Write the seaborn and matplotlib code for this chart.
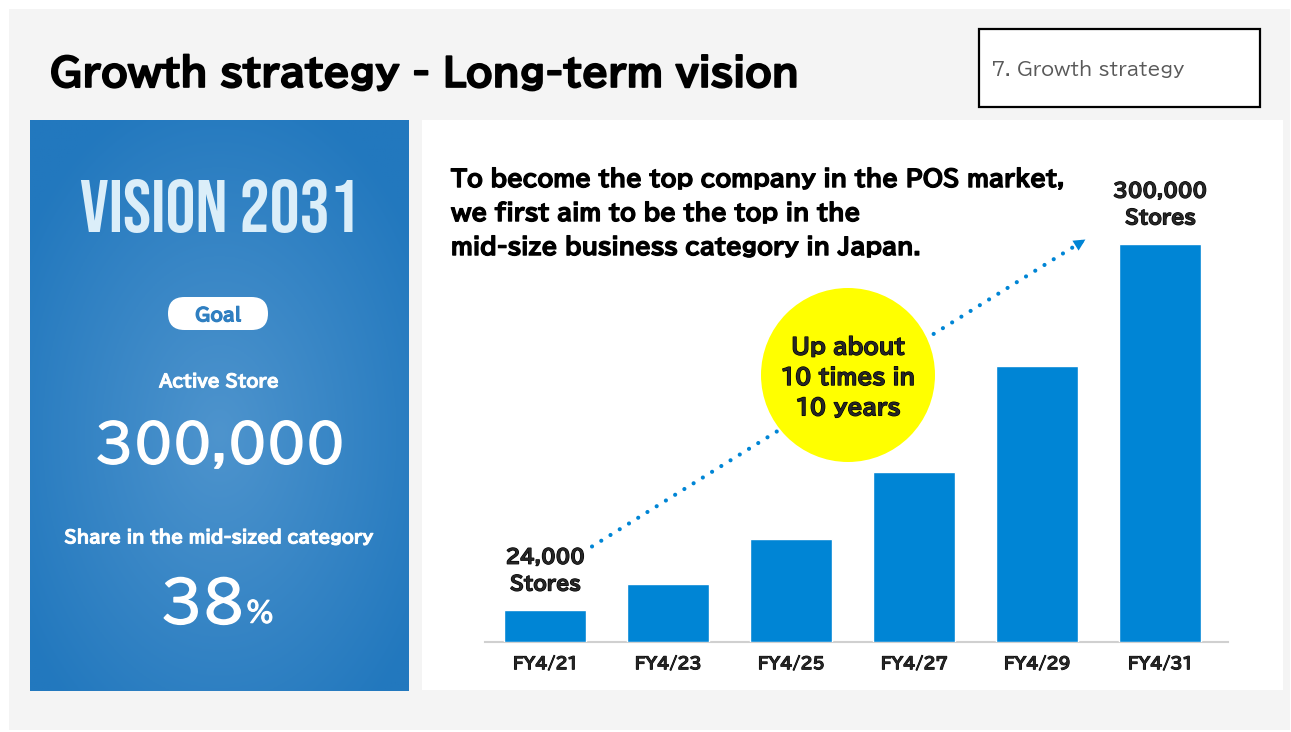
import numpy as np
import matplotlib.pyplot as plt
import matplotlib.patheffects as pe
import seaborn as sns
from matplotlib import font_manager as fm
from matplotlib.patches import Rectangle, FancyBboxPatch, Circle

# ---------- data ----------
years = ['FY4/21', 'FY4/23', 'FY4/25', 'FY4/27', 'FY4/29', 'FY4/31']
stores = [24000, 44000, 78000, 128000, 208000, 300000]
first_label = '24,000\nStores'
last_label = '300,000\nStores'

title = 'Growth strategy - Long-term vision'
section = '7. Growth strategy'
message = ['To become the top company in the POS market,',
           'we first aim to be the top in the',
           'mid-size business category in Japan.']
bubble = 'Up about\n10 times in\n10 years'
vision = 'VISION 2031'
goal = 'Goal'
goal_label = 'Active Store'
goal_value = '300,000'
share_label = 'Share in the mid-sized category'
share_value = '38'

# ---------- style ----------
sns.set_theme(style='white')
plt.rcParams['font.family'] = ['BIZ UDPGothic', 'Noto Sans CJK JP', 'DejaVu Sans']


def face(name, weight):
    # pick the font file directly
    for f in fm.fontManager.ttflist:
        if f.name == name and int(f.weight) == weight:
            return fm.FontProperties(fname=f.fname)
    return fm.FontProperties(family=['Noto Sans CJK JP', 'DejaVu Sans'], weight=weight)


def heavy(color, w=1.0):
    # the bold cut renders light, so thicken the strokes a little
    return [pe.withStroke(linewidth=w, foreground=color)]


reg = face('BIZ UDPGothic', 400)
bold = face('BIZ UDPGothic', 700)
display = fm.FontProperties(family=['Bebas Neue', 'DejaVu Sans'])

blue = '#0085d5'
W, H = 1291, 732
fig = plt.figure(figsize=(W / 100, H / 100), dpi=100)
fig.patch.set_facecolor('white')

# background axes in pixel coordinates
bg = fig.add_axes([0, 0, 1, 1])
bg.set_xlim(0, W)
bg.set_ylim(H, 0)
bg.axis('off')

bg.add_patch(Rectangle((9, 9), 1281, 721, color='#f4f4f4', lw=0))
bg.text(50, 86, title, fontproperties=bold, fontsize=27.3, color='black', va='baseline',
        path_effects=heavy('black', 1.3))

bg.add_patch(Rectangle((979, 29), 281, 78, facecolor='white', edgecolor='black', lw=1.6))
bg.text(991, 69, section, fontproperties=reg, fontsize=13.4, color='#595959', va='center')

# left blue panel with radial gradient
gx, gy = np.meshgrid(np.linspace(-1, 1, 200), np.linspace(-1, 1, 300))
r = np.clip(np.sqrt(gx ** 2 + (gy - 0.1) ** 2) / 1.25, 0, 1)
c_mid = np.array([78, 148, 205]) / 255
c_edge = np.array([34, 120, 190]) / 255
img = c_mid * (1 - r)[..., None] + c_edge * r[..., None]
bg.imshow(img, extent=(30, 409, 691, 120), aspect='auto', zorder=1)

bg.text(220, 232, vision, fontproperties=display, fontsize=54, color='#dbeef9',
        ha='center', va='baseline', zorder=2)
bg.add_patch(FancyBboxPatch((168, 297), 100, 33, boxstyle='round,pad=0,rounding_size=16.5',
                            facecolor='white', edgecolor='none', zorder=2))
bg.text(218, 314, goal, fontproperties=bold, fontsize=12.8, color='#2f7fc1',
        ha='center', va='center', zorder=3, path_effects=heavy('#2f7fc1', 0.8))
bg.text(219, 381, goal_label, fontproperties=bold, fontsize=12.4, color='white',
        ha='center', va='center', zorder=3, path_effects=heavy('white', 0.7))
bg.text(220, 462, goal_value, fontproperties=reg, fontsize=37, color='white',
        ha='center', va='baseline', zorder=3, path_effects=heavy('white', 1.2))
bg.text(219, 537, share_label, fontproperties=bold, fontsize=12.4, color='white',
        ha='center', va='center', zorder=3, path_effects=heavy('white', 0.7))
bg.text(245, 622, share_value, fontproperties=reg, fontsize=40, color='white',
        ha='right', va='baseline', zorder=3, path_effects=heavy('white', 1.2))
bg.text(246, 622, '%', fontproperties=reg, fontsize=20, color='white',
        ha='left', va='baseline', zorder=3, path_effects=heavy('white', 0.8))

# right white panel
bg.add_patch(Rectangle((422, 120), 861, 570, color='white', lw=0))
for i, line in enumerate(message):
    bg.text(451, 178 + 34 * i, line, fontproperties=bold, fontsize=16.4, color='black',
            va='center', path_effects=heavy('black', 0.9))

# ---------- bar chart ----------
ax = fig.add_axes([485 / W, (H - 642) / H, 743 / W, 398 / H])
ax.set_facecolor('none')
sns.barplot(x=years, y=stores, color=blue, saturation=1, width=0.667, ax=ax, zorder=3)
ax.set_xlim(-0.49, 5.55)
ax.set_ylim(0, 300000)
ax.set_yticks([])
ax.set_xlabel('')
ax.set_ylabel('')
for s in ['top', 'left', 'right']:
    ax.spines[s].set_visible(False)
ax.spines['bottom'].set_color('#d0d0d0')
ax.spines['bottom'].set_linewidth(1.5)
ax.tick_params(axis='x', length=0, pad=10)
for t in ax.get_xticklabels():
    t.set_fontproperties(bold)
    t.set_fontsize(11.5)
    t.set_path_effects(heavy('black', 0.7))

ax.annotate(first_label, (0, stores[0]), xytext=(0, 13), textcoords='offset points',
            ha='center', va='bottom', fontproperties=bold, fontsize=13.8,
            linespacing=1.55, annotation_clip=False, path_effects=heavy('black', 0.9))
ax.annotate(last_label, (5, stores[-1]), xytext=(0, 13), textcoords='offset points',
            ha='center', va='bottom', fontproperties=bold, fontsize=13.8,
            linespacing=1.55, annotation_clip=False, path_effects=heavy('black', 0.9))

# dotted growth arrow
x0, y0 = 0.38, stores[0] * 3
x1, y1 = 4.41, stores[-1] * 1.015
ax.plot([x0, x1], [y0, y1], color=blue, lw=3, linestyle=(0, (0.01, 2.6)),
        dash_capstyle='round', clip_on=False, zorder=4)
ax.annotate('', xy=(x1, y1), xytext=(x1 - 0.1, y1 - 0.1 * (y1 - y0) / (x1 - x0)),
            arrowprops=dict(arrowstyle='-|>,head_length=0.7,head_width=0.35',
                            color=blue, lw=0), annotation_clip=False, zorder=4)

# yellow bubble
ax.add_patch(Circle((8.48, (H - 375) / 100), 0.87, transform=fig.dpi_scale_trans,
                    facecolor='#ffff00', edgecolor='none', clip_on=False, zorder=5))
ax.text(8.48, (H - 377) / 100, bubble, transform=fig.dpi_scale_trans, ha='center', va='center',
        fontproperties=bold, fontsize=15.7, linespacing=1.52, zorder=6,
        path_effects=heavy('black', 0.9))

fig.savefig('out.png', dpi=100, facecolor=fig.get_facecolor())
